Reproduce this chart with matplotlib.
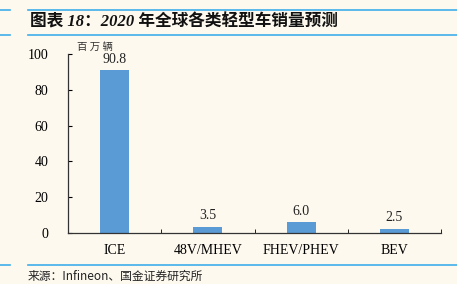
import numpy as np
import matplotlib.pyplot as plt
from matplotlib.lines import Line2D

categories = ['ICE', '48V/MHEV', 'FHEV/PHEV', 'BEV']
sales = [90.8, 3.5, 6.0, 2.5]
labels = ['90.8', '3.5', '6.0', '2.5']

bg = '#fdf9ef'
bar_color = '#5b9bd5'
line_color = '#3daee9'
serif = ['Liberation Serif', 'Noto Sans CJK SC']
cjk = ['Noto Sans CJK SC', 'DejaVu Sans']

fig = plt.figure(figsize=(4.57, 2.84), dpi=100, facecolor=bg)
ax = fig.add_axes([0.1488, 0.1796, 0.8162, 0.6303], facecolor=bg)

x = np.arange(len(categories))
ax.bar(x, sales, width=0.31, color=bar_color, zorder=2)
for xi, v, t in zip(x, sales, labels):
    ax.text(xi, v + 2.6, t, ha='center', va='bottom', fontsize=10,
            family=serif, color='#222222')

ax.set_xlim(-0.5, len(categories) - 0.5)
ax.set_ylim(0, 100)
ax.set_yticks(np.arange(0, 101, 20))
ax.set_yticklabels([str(v) for v in range(0, 101, 20)], family=serif, fontsize=10)
ax.set_xticks(x)
ax.set_xticklabels(categories, family=serif, fontsize=10)
ax.tick_params(axis='x', length=0, pad=8)
ax.set_xticks(np.arange(0.5, len(categories), 1), minor=True)
ax.tick_params(axis='x', which='minor', direction='in', length=3)
ax.tick_params(axis='y', direction='in', length=3, pad=14)
for s in ['top', 'right']:
    ax.spines[s].set_visible(False)
for s in ['left', 'bottom']:
    ax.spines[s].set_color('#333333')
    ax.spines[s].set_linewidth(0.9)

fig.text(77 / 457, 1 - 47 / 284, '百 万 辆', ha='left', va='center',
         fontsize=7.5, family=cjk, color='#333333')

# header and footer rules
for y in [1 - 10 / 284, 1 - 35 / 284, 1 - 265 / 284]:
    fig.add_artist(Line2D([0, 10 / 457], [y, y], color=line_color, lw=1.2))
    fig.add_artist(Line2D([28 / 457, 1], [y, y], color=line_color, lw=1.2))

fig.text(30 / 457, 1 - 22 / 284, '图表 18：2020 年全球各类轻型车销量预测', ha='left', va='center',
         fontsize=12, fontweight='bold', style='italic',
         family=['Liberation Serif', 'Noto Sans CJK SC'], color='#111111')
fig.text(28 / 457, 1 - 276 / 284, '来源：Infineon、国金证券研究所', ha='left', va='center',
         fontsize=8.5, family=cjk, color='#222222')

fig.savefig('out.png', dpi=100, facecolor=bg)
